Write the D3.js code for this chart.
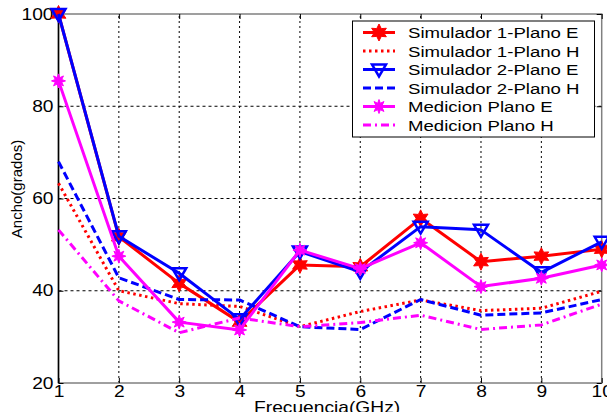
<!DOCTYPE html>
<html>
<head>
<meta charset="utf-8">
<script src="https://cdn.jsdelivr.net/npm/d3@7"></script>
<style>
  html, body { margin: 0; padding: 0; background: #fff; }
  text { font-family: "Liberation Sans", Arial, sans-serif; }
</style>
</head>
<body>
<svg id="chart" width="607" height="412"></svg>
<script>
// datos
var frecuencias = [1, 2, 3, 4, 5, 6, 7, 8, 9, 10];
var sim1PlanoE = [100, 51.7, 41.6, 33.2, 45.6, 45.2, 55.7, 46.3, 47.5, 49.0];
var sim1PlanoH = [63.3, 40.0, 37.2, 36.6, 32.2, 35.5, 38.0, 35.7, 36.2, 39.9];
var sim2PlanoE = [100, 51.8, 43.8, 33.8, 48.5, 44.1, 53.9, 53.2, 44.0, 50.6];
var sim2PlanoH = [68.0, 42.8, 38.1, 38.0, 32.2, 31.6, 38.1, 34.7, 35.2, 38.1];
var medPlanoE = [85.5, 47.5, 33.2, 31.5, 48.8, 44.8, 50.4, 40.9, 42.7, 45.6];
var medPlanoH = [53.2, 37.8, 30.9, 34.1, 32.2, 33.1, 34.7, 31.6, 32.6, 37.1];
var nombres = ["Simulador 1-Plano E", "Simulador 1-Plano H", "Simulador 2-Plano E",
               "Simulador 2-Plano H", "Medicion Plano E", "Medicion Plano H"];
var ticksX = [1, 2, 3, 4, 5, 6, 7, 8, 9, 10];
var ticksY = [20, 40, 60, 80, 100];

var series = [
  { nombre: nombres[0], valores: sim1PlanoE, color: "#ff0000", dash: null, marca: "estrella" },
  { nombre: nombres[1], valores: sim1PlanoH, color: "#ff0000", dash: "2.5,3.5", marca: null },
  { nombre: nombres[2], valores: sim2PlanoE, color: "#0000ff", dash: null, marca: "triangulo" },
  { nombre: nombres[3], valores: sim2PlanoH, color: "#0000ff", dash: "8,4", marca: null },
  { nombre: nombres[4], valores: medPlanoE, color: "#ff00ff", dash: null, marca: "asterisco" },
  { nombre: nombres[5], valores: medPlanoH, color: "#ff00ff", dash: "8,4,2,4", marca: null }
];

var SX = 1.2; // el texto de la figura esta estirado a lo ancho
var svg = d3.select("#chart");
var x = d3.scaleLinear().domain([1, 10]).range([58.5, 601.7]);
var y = d3.scaleLinear().domain([20, 100]).range([383, 14]);

// rejilla punteada
var grid = svg.append("g");
grid.selectAll("line.gx").data(ticksX.slice(1, -1)).enter().append("line")
  .attr("x1", d => x(d)).attr("x2", d => x(d))
  .attr("y1", y(20)).attr("y2", y(100))
  .attr("stroke", "#000").attr("stroke-width", 1).attr("stroke-dasharray", "2,3");
grid.selectAll("line.gy").data(ticksY.slice(1, -1)).enter().append("line")
  .attr("x1", x(1)).attr("x2", x(10))
  .attr("y1", d => y(d)).attr("y2", d => y(d))
  .attr("stroke", "#000").attr("stroke-width", 1).attr("stroke-dasharray", "3,3");

// caja de ejes
svg.append("rect")
  .attr("x", x(1)).attr("y", y(100))
  .attr("width", x(10) - x(1)).attr("height", y(20) - y(100))
  .attr("fill", "none").attr("stroke", "#808080").attr("stroke-width", 1.5);

function estilo(g) {
  g.select(".domain").remove();
  g.selectAll(".tick line").attr("stroke", "#000");
  g.selectAll(".tick text").attr("fill", "#000").attr("font-size", 16);
}

var ejeX = svg.append("g").attr("transform", "translate(0," + y(20) + ")")
  .call(d3.axisBottom(x).tickValues(ticksX).tickFormat(d3.format("d")).tickSize(-5).tickPadding(3));
estilo(ejeX);
ejeX.selectAll(".tick text").attr("transform", "scale(" + SX + ",1)");

svg.append("g").attr("transform", "translate(0," + y(100) + ")")
  .call(d3.axisTop(x).tickValues(ticksX).tickFormat("").tickSize(-5))
  .call(estilo);

var ejeY = svg.append("g").attr("transform", "translate(" + x(1) + ",0)")
  .call(d3.axisLeft(y).tickValues(ticksY).tickFormat(d3.format("d")).tickSize(-5).tickPadding(0));
estilo(ejeY);
ejeY.selectAll(".tick text").attr("x", 0).attr("transform", "translate(-5,0) scale(" + SX + ",1)");

svg.append("g").attr("transform", "translate(" + x(10) + ",0)")
  .call(d3.axisRight(y).tickValues(ticksY).tickFormat("").tickSize(-5))
  .call(estilo);

svg.append("line")
  .attr("x1", x(1)).attr("x2", x(1)).attr("y1", y(100)).attr("y2", y(20))
  .attr("stroke", "#000").attr("stroke-width", 1.5);

// titulos de ejes
svg.append("text")
  .attr("transform", "translate(" + ((x(1) + x(10)) / 2 - 3) + ",413) scale(" + SX + ",1)")
  .attr("text-anchor", "middle").attr("font-size", 16).text("Frecuencia(GHz)");
svg.append("text")
  .attr("transform", "translate(22,189) rotate(-90)")
  .attr("text-anchor", "middle").attr("font-size", 15).text("Ancho(grados)");

// marcadores
function estrellaPath(puntas, rExt, rInt) {
  var pts = [];
  for (var i = 0; i < puntas * 2; i++) {
    var r = i % 2 === 0 ? rExt : rInt;
    var a = Math.PI * i / puntas - Math.PI / 2;
    pts.push([r * Math.cos(a), r * Math.sin(a)]);
  }
  return "M" + pts.join("L") + "Z";
}
function dibujarMarca(g, tipo, color) {
  if (tipo === "estrella") {
    g.append("path").attr("d", estrellaPath(6, 8.5, 4.5))
      .attr("fill", color).attr("stroke", color).attr("stroke-width", 1);
  } else if (tipo === "triangulo") {
    g.append("path").attr("d", "M-7,-5L7,-5L0,7Z")
      .attr("fill", "none").attr("stroke", color).attr("stroke-width", 2.5);
  } else if (tipo === "asterisco") {
    g.append("path").attr("d", estrellaPath(8, 7, 3.5))
      .attr("fill", color).attr("stroke", color).attr("stroke-width", 1);
  }
}

var linea = d3.line().x((d, i) => x(frecuencias[i])).y(d => y(d));

series.forEach(function (s) {
  svg.append("path")
    .attr("d", linea(s.valores))
    .attr("fill", "none").attr("stroke", s.color).attr("stroke-width", 3)
    .attr("stroke-linejoin", "round")
    .attr("stroke-dasharray", s.dash);
  if (s.marca) {
    s.valores.forEach(function (v, i) {
      var g = svg.append("g").attr("transform", "translate(" + x(frecuencias[i]) + "," + y(v) + ")");
      dibujarMarca(g, s.marca, s.color);
    });
  }
});

// leyenda
var filaY = d3.scaleLinear().domain([0, 5]).range([32.5, 125]);
var leyenda = svg.append("g");
leyenda.append("rect")
  .attr("x", 352.5).attr("y", 21).attr("width", 242).attr("height", 116)
  .attr("fill", "#fff").attr("stroke", "#000").attr("stroke-width", 1);
series.forEach(function (s, i) {
  var cy = filaY(i);
  leyenda.append("line")
    .attr("x1", 363).attr("x2", 395).attr("y1", cy).attr("y2", cy)
    .attr("stroke", s.color).attr("stroke-width", 3)
    .attr("stroke-dasharray", s.dash);
  if (s.marca) {
    dibujarMarca(leyenda.append("g").attr("transform", "translate(379," + cy + ")"), s.marca, s.color);
  }
  leyenda.append("text")
    .attr("transform", "translate(408," + (cy + 5.5) + ") scale(" + SX + ",1)")
    .attr("font-size", 15.5).attr("fill", "#000").text(s.nombre);
});
</script>
</body>
</html>
